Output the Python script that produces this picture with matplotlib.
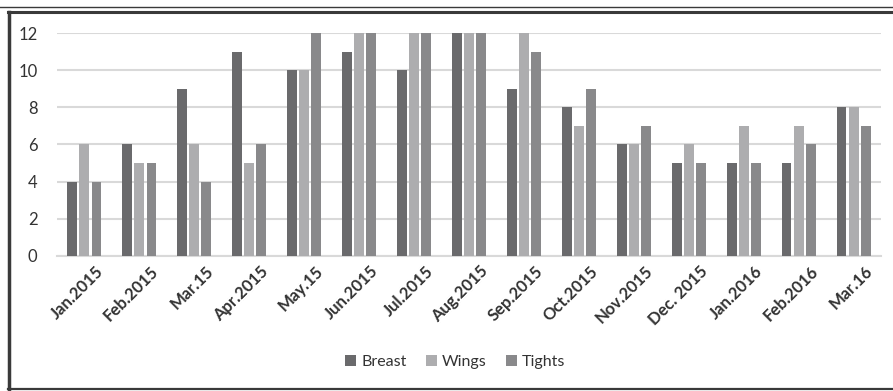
import numpy as np
import matplotlib
matplotlib.use("Agg")
import matplotlib.pyplot as plt
from matplotlib.lines import Line2D


months = ["Jan.2015", "Feb.2015", "Mar.15", "Apr.2015", "May.15", "Jun.2015",
          "Jul.2015", "Aug.2015", "Sep.2015", "Oct.2015", "Nov.2015",
          "Dec. 2015", "Jan.2016", "Feb.2016", "Mar.16"]

breast = [4, 6, 9, 11, 10, 11, 10, 12, 9, 8, 6, 5, 5, 5, 8]
wings = [6, 5, 6, 5, 10, 12, 12, 12, 12, 7, 6, 6, 7, 7, 8]
tights = [4, 5, 4, 6, 12, 12, 12, 12, 11, 9, 7, 5, 5, 6, 7]

series = [("Breast", breast, "#6a6a6c"),
          ("Wings", wings, "#adadaf"),
          ("Tights", tights, "#89898b")]

plt.rcParams["font.family"] = ["Lato", "DejaVu Sans"]

fig = plt.figure(figsize=(8.93, 3.91), dpi=100)
ax = fig.add_axes([0.0638, 0.3453, 0.9228, 0.5703])

x = np.arange(len(months))
bar_w = 0.18
step = 0.22

for i, (name, vals, color) in enumerate(series):
    ax.bar(x + (i - 1) * step, vals, width=bar_w, color=color, label=name,
           zorder=3)

ax.set_xlim(-0.5, len(months) - 0.5)
ax.set_ylim(0, 12)
ax.set_yticks(range(0, 13, 2))
ax.yaxis.grid(True, color="#d9d9d9", linewidth=1.5, zorder=0)
ax.set_axisbelow(True)

for side in ["top", "right", "left"]:
    ax.spines[side].set_visible(False)
ax.spines["bottom"].set_color("#d9d9d9")
ax.spines["bottom"].set_linewidth(1.5)

ax.tick_params(axis="y", length=0, pad=14, labelsize=12, labelcolor="#333333")
ax.tick_params(axis="x", length=0, pad=5)
ax.set_xticks(x + 0.2)
ax.set_xticklabels(months, rotation=45, ha="right", rotation_mode="anchor",
                   fontsize=12, fontweight="bold", color="#333333")

ax.legend(loc="center", bbox_to_anchor=(0.5 - 0.017, -0.475), ncol=3,
          frameon=False, fontsize=11.5, handlelength=0.7, handleheight=0.7,
          handletextpad=0.3, columnspacing=1.2, labelcolor="#333333")

# border around the chart: double rule on top, heavy rule left and bottom
W, H = 893, 391
frame = [
    ([0, 1], [1 - 7 / H, 1 - 7 / H], 1.0),
    ([7.5 / W, 1], [1 - 12 / H, 1 - 12 / H], 2.2),
    ([8.5 / W, 8.5 / W], [1 - 12 / H, 1 - 389 / H], 2.5),
    ([7.5 / W, 1], [1 - 389 / H, 1 - 389 / H], 1.6),
]
for xs, ys, lw in frame:
    fig.add_artist(Line2D(xs, ys, transform=fig.transFigure, color="#3a3a3a",
                          linewidth=lw))

fig.savefig("out.png", dpi=100, facecolor="white")
